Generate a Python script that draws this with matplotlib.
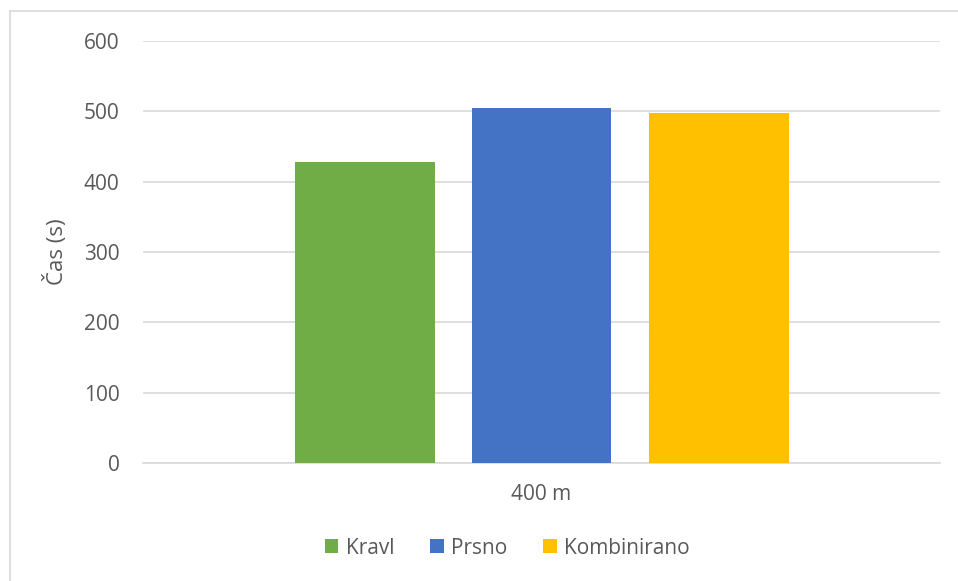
import matplotlib.pyplot as plt
from matplotlib.lines import Line2D
import numpy as np

plt.rcParams['font.family'] = ['Open Sans', 'DejaVu Sans']

category = ["400 m"]
series = ["Kravl", "Prsno", "Kombinirano"]
values = [428, 505, 498]
colors = ["#70AD47", "#4472C4", "#FFC000"]
text_color = "#595959"

fig = plt.figure(figsize=(9.58, 5.81), dpi=100)
ax = fig.add_axes([143 / 958, 1 - 463 / 581, 797 / 958, 422 / 581])

# chart frame: only left and top edges show in the crop
fx, fy = 9.5 / 958, 1 - 10.5 / 581
fig.lines.append(Line2D([fx, fx], [0, fy], transform=fig.transFigure,
                        color="#D9D9D9", linewidth=1.2))
fig.lines.append(Line2D([fx, 1], [fy, fy], transform=fig.transFigure,
                        color="#D9D9D9", linewidth=1.2))

x = np.arange(len(category))
width = 0.175
offsets = [-0.2215, 0.0, 0.2225]
for name, val, col, off in zip(series, values, colors, offsets):
    ax.bar(x + off, [val], width, color=col, label=name, zorder=3)

ax.set_xlim(-0.5, 0.5)
ax.set_ylim(0, 600)
ax.set_yticks(range(0, 601, 100))
ax.set_xticks(x)
ax.set_xticklabels(category)
ax.grid(axis='y', color="#D9D9D9", linewidth=1.2, zorder=0)
for s in ['top', 'right', 'left']:
    ax.spines[s].set_visible(False)
ax.spines['bottom'].set_color("#D9D9D9")
ax.spines['bottom'].set_linewidth(1.2)
ax.tick_params(axis='both', length=0, labelsize=15, colors=text_color)
ax.tick_params(axis='y', pad=17)
ax.tick_params(axis='x', pad=15)
ax.set_ylabel("Čas (s)", fontsize=16, color=text_color, labelpad=11)

ax.legend(loc='center', bbox_to_anchor=(507 / 958, 33 / 581),
          bbox_transform=fig.transFigure, ncol=3, frameon=False,
          fontsize=15, labelcolor=text_color, handlelength=0.67,
          handleheight=0.67, handletextpad=0.35, columnspacing=1.7)

fig.savefig("out.png", dpi=100)
